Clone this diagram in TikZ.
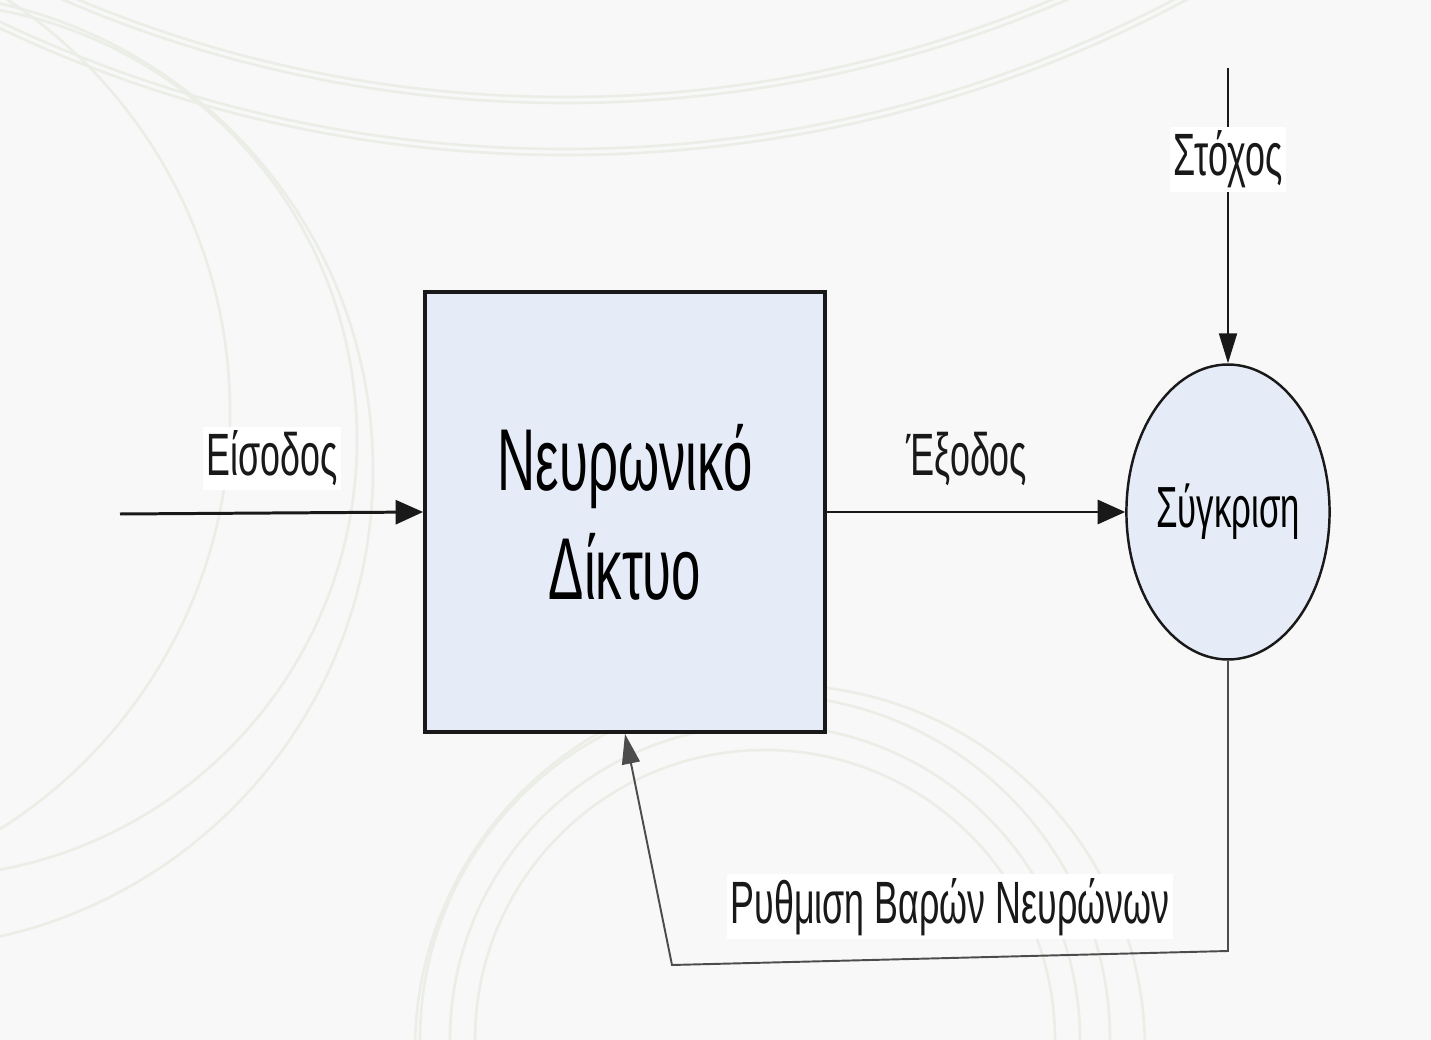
\documentclass[tikz,border=0pt]{standalone}
\usepackage{fontspec}
\setmainfont{Liberation Sans}
\newfontfamily\grfont[FakeStretch=0.6]{Liberation Sans}
\usetikzlibrary{arrows.meta,shapes.geometric}

\definecolor{paper}{RGB}{248,248,248}
\definecolor{boxblue}{RGB}{230,236,247}
\definecolor{swirl}{RGB}{235,238,230}
\definecolor{ink}{RGB}{25,25,25}

\tikzset{
  lbl/.style={font=\grfont\fontsize{34}{40}\selectfont, text=ink, inner sep=2pt},
  bigflow/.style={->, line width=1.7pt, >={Triangle[length=0.55cm,width=0.48cm]}},
  thinflow/.style={->, line width=1.1pt, >={Triangle[length=0.6cm,width=0.36cm]}}
}

\begin{document}
\begin{tikzpicture}[x=0.02cm, y=-0.02cm]
      \fill[paper] (0,0) rectangle (1431,1040);
      \useasboundingbox (0,0) rectangle (1431,1040);

      % faint swirls behind everything
      \begin{scope}
        \clip (0,0) rectangle (1431,1040);
        \begin{scope}[swirl, line width=1.5pt]
          % top
          \draw (565,-1165) circle[radius=1262];
          \draw (565,-1165) circle[radius=1268];
          \draw (565,-1165) circle[radius=1314];
          \draw (565,-1165) circle[radius=1320];
          % left
          \draw (-263,412) circle[radius=493];
          \draw (-80,440) circle[radius=437];
          \draw (-105,470) circle[radius=478];
          % bottom
          \draw (765,1040) circle[radius=290];
          \draw (765,1040) circle[radius=315];
          \draw (765,1040) circle[radius=345];
          \draw (780,1050) circle[radius=365];
        \end{scope}
      \end{scope}

      \begin{scope}[every node/.style={draw=ink, fill=boxblue, inner sep=2pt}]
        \node[rectangle, line width=2.2pt, minimum width=8cm, minimum height=8.8cm,
              align=center, font=\grfont\fontsize{50}{62}\selectfont] (net) at (625,512) {Νευρωνικό\\Δίκτυο};
        \node[ellipse, line width=1.4pt, inner sep=0pt, minimum width=3.9cm, minimum height=5.9cm,
              font=\grfont\fontsize{33}{40}\selectfont] (cmp) at (1228,512) {Σύγκριση};
      \end{scope}

      \coordinate (in) at (120,514);
      \coordinate (goal) at (1228,68);
      \coordinate (fbr) at (1228,951);
      \coordinate (fbl) at (672,965);

      \begin{scope}[ink]
        \draw[bigflow] (in) -- (net.west);
        \draw[bigflow] (net.east) -- (cmp.west);
        \draw[thinflow] (goal) -- node[lbl, fill=white, pos=0.31] (goal-lbl) {Στόχος} (cmp.north);
        \draw[thinflow, draw=black!70] (cmp.south) -- (fbr) -- (fbl) -- (net.south);
      \end{scope}

      \node[lbl, anchor=base, fill=white] (in-lbl) at (272,476) {Είσοδος};
      \node[lbl, anchor=base] (out-lbl) at (967,476) {Έξοδος};
      \node[lbl, anchor=base, fill=white] (fb-lbl) at (950,923) {Ρυθμιση Βαρών Νευρώνων};
   \end{tikzpicture}
\end{document}
